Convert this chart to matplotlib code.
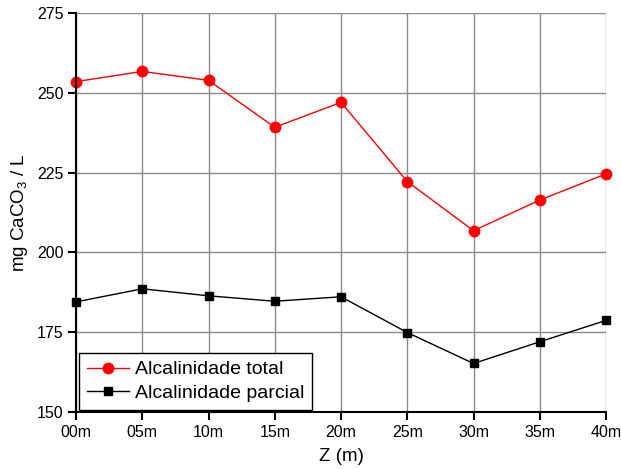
import matplotlib
matplotlib.use("Agg")
import matplotlib.pyplot as plt

plt.rcParams['font.family'] = ['Liberation Sans', 'DejaVu Sans']
plt.rcParams['mathtext.default'] = 'regular'

categories = ["00m", "05m", "10m", "15m", "20m", "25m", "30m", "35m", "40m"]
alc_total = [253.5, 256.7, 253.9, 239.2, 247.0, 222.2, 206.8, 216.4, 224.6]
alc_parcial = [184.5, 188.6, 186.4, 184.7, 186.1, 174.9, 165.2, 172.0, 178.7]
yticks = [150, 175, 200, 225, 250, 275]

fig = plt.figure(figsize=(6.21, 4.69), dpi=100)
ax = fig.add_axes([0.1224, 0.1215, 0.8535, 0.8508])

x = list(range(len(categories)))
ax.plot(x, alc_total, color='#ff0000', lw=1.0, marker='o', ms=7.5,
        label='Alcalinidade total', zorder=3, clip_on=False)
ax.plot(x, alc_parcial, color='black', lw=1.0, marker='s', ms=6.0,
        label='Alcalinidade parcial', zorder=3, clip_on=False)

ax.set_xlim(0, len(categories) - 1)
ax.set_ylim(150, 275)
ax.set_xticks(x)
ax.set_xticklabels(categories)
ax.set_yticks(yticks)
ax.grid(True, color='#8c8c8c', lw=1.0)
ax.set_axisbelow(True)

for s in ['top', 'right']:
    ax.spines[s].set_visible(False)
for s in ['left', 'bottom']:
    ax.spines[s].set_linewidth(1.5)
    ax.spines[s].set_zorder(4)

ax.tick_params(axis='both', direction='out', length=6, width=1.5,
               labelsize=11.5, colors='black', pad=3)

ax.set_xlabel('Z (m)', fontsize=13.5, labelpad=6)
ax.set_ylabel('mg CaCO$_3$ / L', fontsize=13.5, labelpad=5)

leg = ax.legend(loc='lower left', bbox_to_anchor=(0.006, 0.006),
                borderaxespad=0, fontsize=14, frameon=True, fancybox=False,
                edgecolor='black', framealpha=1, numpoints=1,
                handlelength=2.15, handletextpad=0.3, borderpad=0.4,
                labelspacing=0.3)
leg.get_frame().set_linewidth(1.0)

fig.savefig('out.png', dpi=100)
